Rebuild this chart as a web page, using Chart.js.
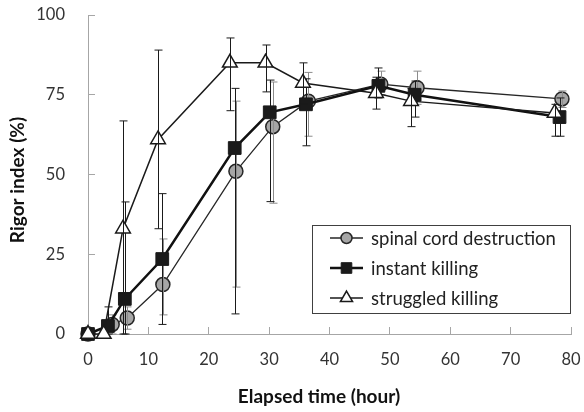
<!DOCTYPE html>
<html>
<head>
<meta charset="utf-8">
<script src="https://cdn.jsdelivr.net/npm/chart.js@4"></script>
<style>
  body { margin: 0; background: #fff; }
  #wrap { width: 584px; height: 412px; }
</style>
</head>
<body>
<div id="wrap"><canvas id="rigorChart" width="584" height="412"></canvas></div>
<script>
// series (x = elapsed hours, y = rigor index %)
const seriesNames = ["spinal cord destruction", "instant killing", "struggled killing"];

const spinalTime = [0, 4, 6.5, 12.4, 24.5, 30.6, 36.5, 48.5, 54.5, 78.5];
const spinalValue = [0, 3, 5, 15.5, 51, 65, 73, 78.3, 77.2, 73.7];
const spinalHigh = [0, 6, 8.5, 29.8, 73, 79, 82, 82.4, 82.4, 76.2];
const spinalLow = [0, 0, 1.5, 6, 14.7, 41, 62, 75, 72, 71];

const instantTime = [0, 3.3, 6.1, 12.3, 24.3, 30.1, 36.1, 48.1, 54.1, 78.1];
const instantValue = [0, 2.5, 11, 23.5, 58.3, 69.5, 72, 77.8, 75, 68];
const instantHigh = [0, 8.5, 41.4, 44, 77, 79.6, 80, 83.4, 79.3, 74];
const instantLow = [0, 0, 0, 3, 6.3, 41.5, 59, 74, 68, 62];

const struggledTime = [0, 2.6, 5.8, 11.6, 23.5, 29.4, 35.6, 47.7, 53.5, 77.3];
const struggledValue = [0, 0, 33, 61, 85, 85, 78.7, 75.5, 73, 69.3];
const struggledHigh = [0, 0, 66.8, 89, 92.8, 90.6, 85, 80.5, 77, 72];
const struggledLow = [0, 0, 0, 33, 70, 75.9, 72, 70.5, 65, 62];

const xTickValues = [0, 10, 20, 30, 40, 50, 60, 70, 80];
const yTickValues = [0, 25, 50, 75, 100];

const xTitle = "Elapsed time (hour)";
const yTitle = "Rigor index (%)";

const FONT = "Lato, 'Open Sans', sans-serif";

function points(xs, ys) {
  return xs.map((x, i) => ({ x: x, y: ys[i] }));
}

// vertical error bars, drawn right after each series so later series sit on top
const errorBars = {
  id: "errorBars",
  afterDatasetDraw(chart, args) {
    const ds = chart.data.datasets[args.index];
    const yScale = chart.scales.y;
    const ctx = chart.ctx;
    ctx.save();
    ctx.strokeStyle = ds.errColor;
    ctx.lineWidth = 1;
    args.meta.data.forEach((pt, j) => {
      const hi = yScale.getPixelForValue(ds.errHigh[j]);
      const lo = yScale.getPixelForValue(ds.errLow[j]);
      if (Math.abs(hi - lo) < 1) return;
      const x = Math.round(pt.x) + 0.5;
      ctx.beginPath();
      ctx.moveTo(x, hi); ctx.lineTo(x, lo);
      ctx.moveTo(x - 4, hi); ctx.lineTo(x + 4, hi);
      ctx.moveTo(x - 4, lo); ctx.lineTo(x + 4, lo);
      ctx.stroke();
    });
    ctx.restore();
  }
};

// boxed legend inside the plot + axis titles
const legendAndTitles = {
  id: "legendAndTitles",
  afterDraw(chart) {
    const ctx = chart.ctx;
    ctx.save();

    // axis titles
    ctx.fillStyle = "#111";
    ctx.font = "bold 19px " + FONT;
    ctx.textAlign = "center";
    ctx.textBaseline = "middle";
    ctx.fillText(xTitle, 319, 397);
    ctx.translate(18, 180);
    ctx.rotate(-Math.PI / 2);
    ctx.fillText(yTitle, 0, 0);
    ctx.setTransform(1, 0, 0, 1, 0, 0);

    // legend box
    const bx = 312.5, by = 225.5, bw = 258, bh = 88;
    ctx.fillStyle = "#fff";
    ctx.fillRect(bx, by, bw, bh);
    ctx.strokeStyle = "#404040";
    ctx.lineWidth = 1;
    ctx.strokeRect(bx, by, bw, bh);

    const rows = [238, 268, 298];
    ctx.font = "18.5px " + FONT;
    ctx.textAlign = "left";
    chart.data.datasets.forEach((ds, i) => {
      const cy = rows[i];
      ctx.strokeStyle = ds.borderColor;
      ctx.lineWidth = ds.borderWidth;
      ctx.beginPath();
      ctx.moveTo(330, cy);
      ctx.lineTo(363, cy);
      ctx.stroke();
      ctx.fillStyle = ds.pointBackgroundColor;
      ctx.strokeStyle = ds.pointBorderColor;
      ctx.lineWidth = ds.pointBorderWidth;
      Chart.helpers.drawPoint(ctx, {
        pointStyle: ds.pointStyle,
        radius: ds.legendRadius,
        rotation: 0,
        borderWidth: ds.pointBorderWidth
      }, 346.5, cy);
      ctx.fillStyle = "#222";
      ctx.fillText(ds.label, 371, cy + 1);
    });
    ctx.restore();
  }
};

const ctxRigor = document.getElementById("rigorChart").getContext("2d");
const rigorChart = new Chart(ctxRigor, {
  type: "line",
  data: {
    datasets: [
      {
        label: seriesNames[0],
        data: points(spinalTime, spinalValue),
        errHigh: spinalHigh,
        errLow: spinalLow,
        errColor: "#8c8c8c",
        borderColor: "#262626",
        borderWidth: 1.3,
        pointStyle: "circle",
        pointRadius: 7,
        legendRadius: 5.5,
        pointBackgroundColor: "#a6a6a6",
        pointBorderColor: "#262626",
        pointBorderWidth: 1.5,
        order: 2
      },
      {
        label: seriesNames[1],
        data: points(instantTime, instantValue),
        errHigh: instantHigh,
        errLow: instantLow,
        errColor: "#1a1a1a",
        borderColor: "#111",
        borderWidth: 2.5,
        pointStyle: "rect",
        pointRadius: 9,
        legendRadius: 7.5,
        pointBackgroundColor: "#1a1a1a",
        pointBorderColor: "#1a1a1a",
        pointBorderWidth: 1,
        order: 1
      },
      {
        label: seriesNames[2],
        data: points(struggledTime, struggledValue),
        errHigh: struggledHigh,
        errLow: struggledLow,
        errColor: "#1a1a1a",
        borderColor: "#1a1a1a",
        borderWidth: 1.5,
        pointStyle: "triangle",
        pointRadius: 8.5,
        legendRadius: 7,
        pointBackgroundColor: "#ffffff",
        pointBorderColor: "#1a1a1a",
        pointBorderWidth: 1.5,
        order: 0
      }
    ]
  },
  options: {
    responsive: false,
    animation: false,
    clip: false,
    layout: { padding: { top: 15, right: 13, left: 0, bottom: 0 } },
    elements: { line: { tension: 0, fill: false } },
    plugins: { legend: { display: false }, tooltip: { enabled: false } },
    scales: {
      x: {
        type: "linear",
        min: 0,
        max: 80,
        afterBuildTicks: (s) => { s.ticks = xTickValues.map((v) => ({ value: v })); },
        afterFit: (s) => { s.height = 78; s.paddingLeft = 0; s.paddingRight = 0; },
        grid: { drawOnChartArea: false, tickLength: -7, color: "#a6a6a6" },
        border: { color: "#a6a6a6", width: 1 },
        ticks: { padding: 23, color: "#333", font: { family: FONT, size: 16.5 } }
      },
      y: {
        type: "linear",
        min: 0,
        max: 100,
        afterBuildTicks: (s) => { s.ticks = yTickValues.map((v) => ({ value: v })); },
        afterFit: (s) => { s.width = 88; s.paddingTop = 0; s.paddingBottom = 0; },
        grid: { drawOnChartArea: false, tickLength: -7, color: "#a6a6a6" },
        border: { color: "#a6a6a6", width: 1 },
        ticks: { padding: 30, color: "#333", font: { family: FONT, size: 16.5 } }
      }
    }
  },
  plugins: [errorBars, legendAndTitles]
});
</script>
</body>
</html>
